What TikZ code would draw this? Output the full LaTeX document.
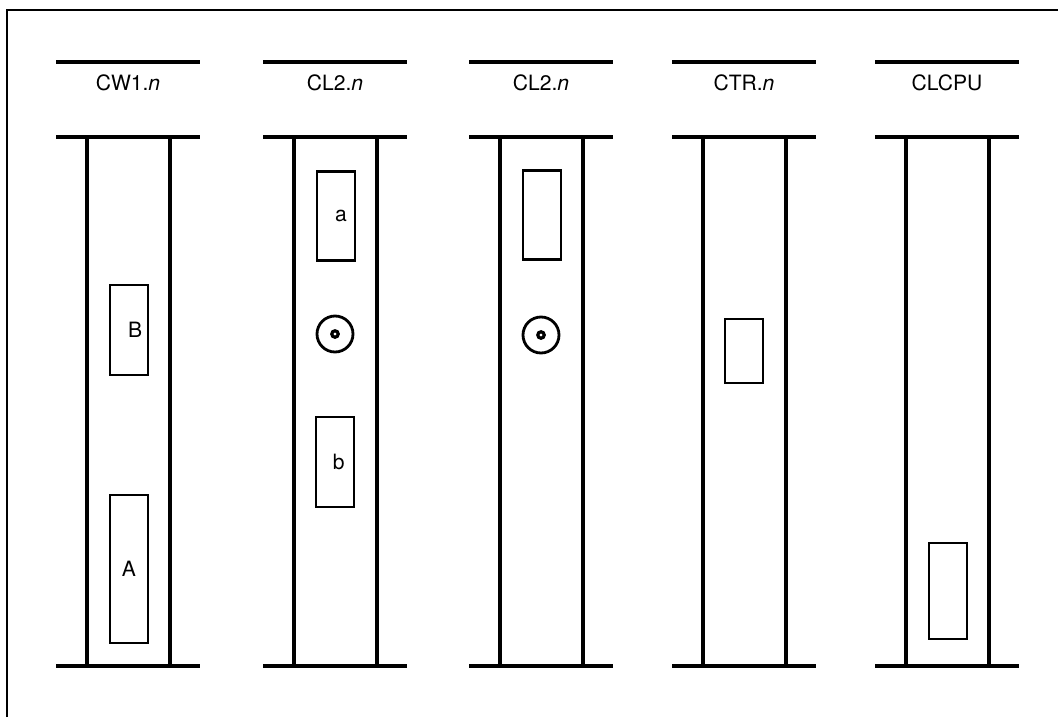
\documentclass[tikz,border=0pt]{standalone}
\usepackage{fontspec}
\setmainfont{TeX Gyre Heros}

\begin{document}
\begin{tikzpicture}[
  x=0.02cm, y=-0.02cm,
  rail/.style={line width=1.9pt},
  card/.style={draw, line width=1.6pt, minimum width=0.76cm, inner sep=0pt,
              font=\fontsize{12}{14}\selectfont},
  jack/.style={draw, circle, line width=1.6pt, minimum size=0.72cm, inner sep=0pt},
  pin/.style={draw, circle, line width=1.8pt, minimum size=0.13cm, inner sep=0pt},
  lbl/.style={font=\fontsize{12}{14}\selectfont},
]
\useasboundingbox (0,0) rectangle (1058,717);

% frame
\draw[line width=0.9pt] (7,717) -- (7,10) -- (1058,10);

% slots with their headers
\foreach \cx/\txt/\nm in {128/{CW1.\textit{n}}/cwone, 335/{CL2.\textit{n}}/cltwoa,
    541/{CL2.\textit{n}}/cltwob, 744/{CTR.\textit{n}}/ctr, 947/{CLCPU}/clcpu} {
  \draw[rail] (\cx-72,62) -- (\cx+72,62);
  \node[lbl] (\nm) at (\cx,83) {\txt};
  \draw[rail] (\cx-72,137) -- (\cx+72,137);
  \draw[rail] (\cx-72,666) -- (\cx+72,666);
  \draw[rail] (\cx-41,137) -- (\cx-41,666);
  \draw[rail] (\cx+42,137) -- (\cx+42,666);
}

% CW1.n
\node[card, minimum height=1.8cm] (cardB) at (129,330) {\hspace{0.25cm}B};
\node[card, minimum height=2.96cm] (cardA) at (129,569) {A};

% CL2.n (first)
\node[card, minimum height=1.78cm] (carda) at (336,216) {\hspace{0.2cm}a};
\node[jack] (jacka) at (335,334) {};
\node[pin] at (jacka) {};
\node[card, minimum height=1.8cm] (cardb) at (335,462) {\hspace{0.15cm}b};

% CL2.n (second)
\node[card, minimum height=1.78cm] (cardc) at (542,215) {};
\node[jack] (jackb) at (541,335) {};
\node[pin] at (jackb) {};

% CTR.n
\node[card, minimum height=1.28cm] (cardd) at (744,351) {};

% CLCPU
\node[card, minimum height=1.92cm] (carde) at (948,591) {};

\end{tikzpicture}
\end{document}
